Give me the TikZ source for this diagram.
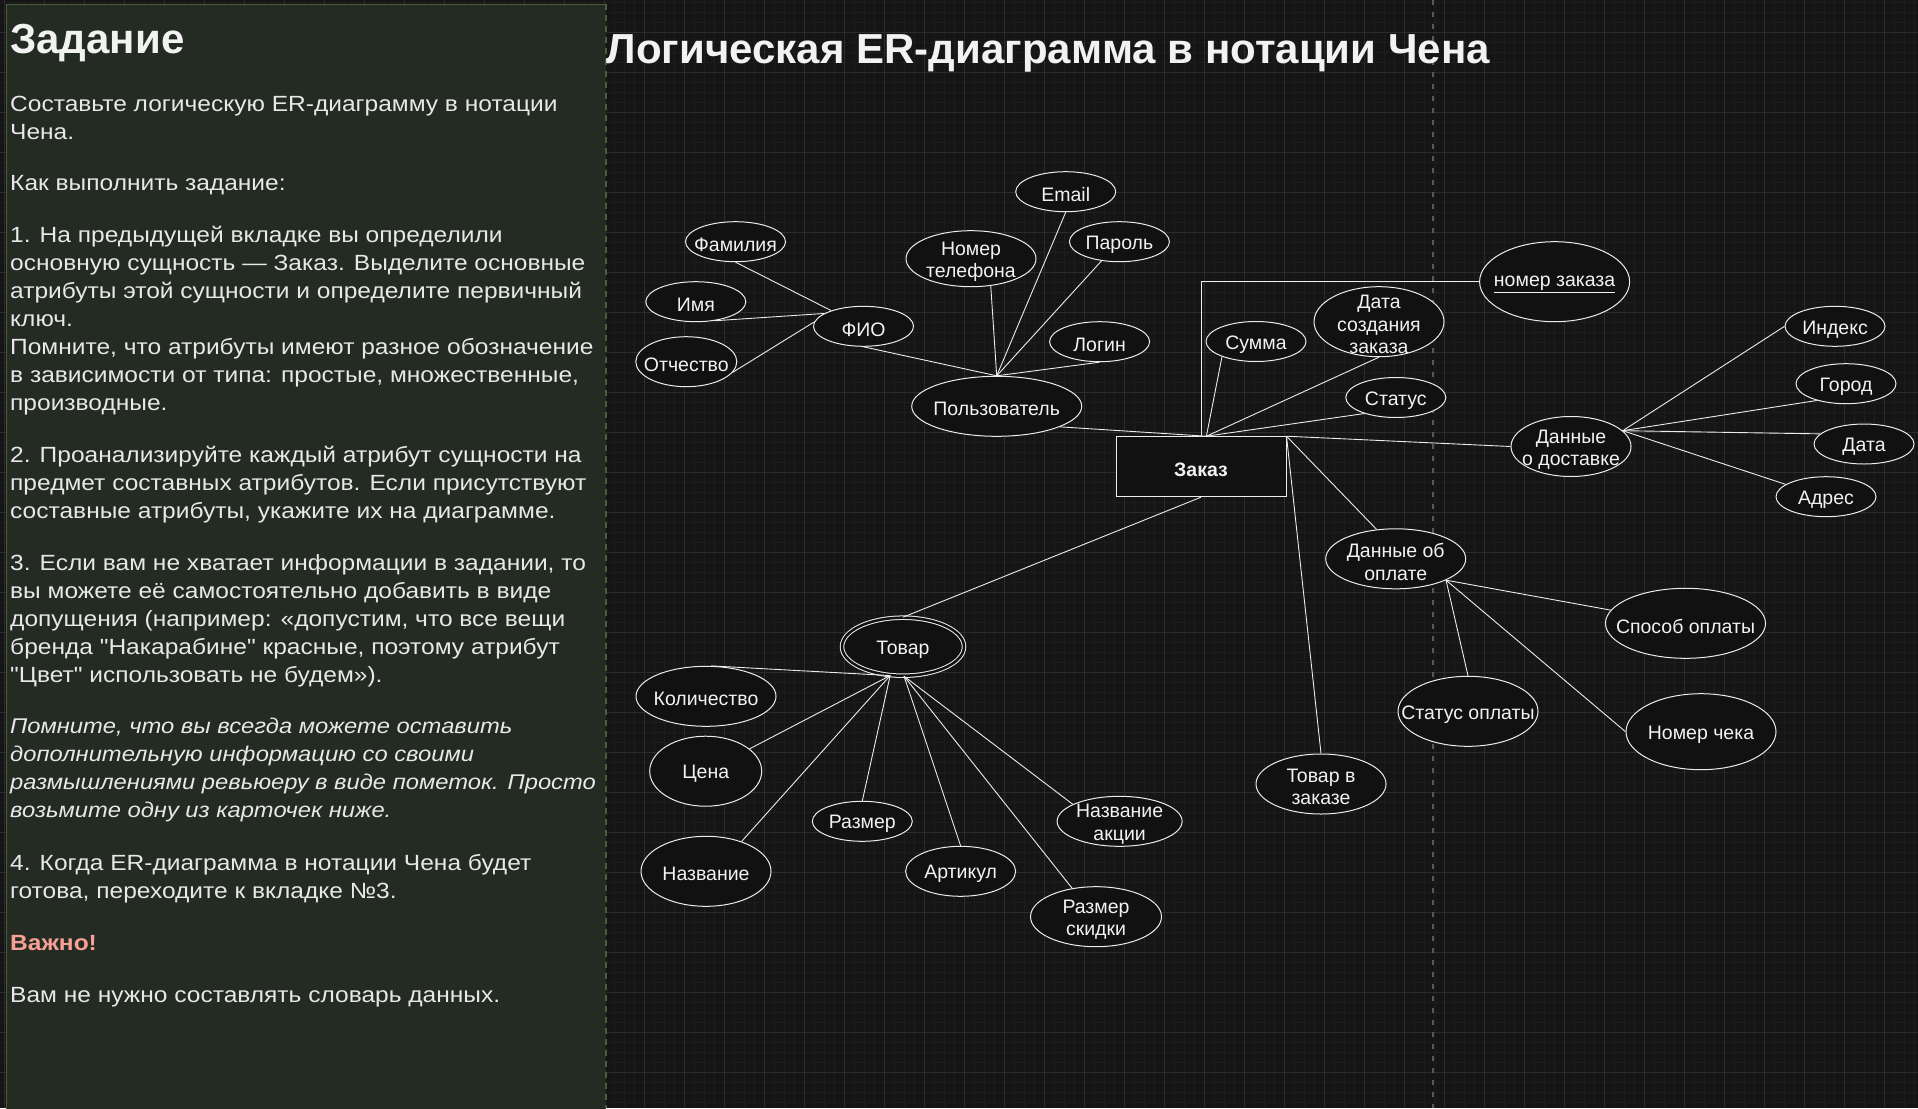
\documentclass[tikz,border=0pt]{standalone}
\usepackage{fontspec}
\setmainfont{Liberation Sans}
\newfontfamily\panelfont[FakeStretch=1.115]{Liberation Sans}
\usetikzlibrary{shapes.geometric, positioning}
\definecolor{erbg}{RGB}{21,21,21}
\definecolor{ergridminor}{RGB}{29,29,29}
\definecolor{ergridmajor}{RGB}{44,44,44}
\definecolor{panelfill}{RGB}{35,43,34}
\definecolor{panelline}{RGB}{70,96,55}
\definecolor{paneltext}{RGB}{232,232,232}
\definecolor{guidegray}{RGB}{88,88,88}
\definecolor{ershape}{RGB}{17,17,17}
\definecolor{erline}{RGB}{236,236,236}
\definecolor{ertext}{RGB}{242,242,242}
\definecolor{warnred}{RGB}{246,160,150}

\tikzset{
  attr/.style={ellipse, draw=erline, fill=ershape, line width=1pt, inner sep=0pt},
  lbl/.style={text=ertext, font=\fontsize{19.5}{22.5}\selectfont, align=center, yshift=-3pt},
  link/.style={draw=erline, line width=0.9pt},
  % paragraphs sit on the baseline of their last line
  para/.style={anchor=base west, text=paneltext, align=left, inner sep=0pt,
    font=\panelfont\fontsize{22}{28.1}\selectfont},
}

\begin{document}
\begin{tikzpicture}[x=1pt, y=-1pt]
    \useasboundingbox (0,0) rectangle (1918,1108);
    % canvas with grid
    \fill[erbg] (0,0) rectangle (1918,1108);
    \foreach \gx in {4.3,14.3,...,1914.3}
      \draw[ergridminor, line width=0.8pt] (\gx,0) -- (\gx,1108);
    \foreach \gy in {2.7,12.7,...,1102.7}
      \draw[ergridminor, line width=0.8pt] (0,\gy) -- (1918,\gy);
    \foreach \gx in {4.3,44.3,...,1884.3}
      \draw[ergridmajor, line width=1.2pt] (\gx,0) -- (\gx,1108);
    \foreach \gy in {32.7,72.7,...,1072.7}
      \draw[ergridmajor, line width=1.2pt] (0,\gy) -- (1918,\gy);
    \draw[guidegray, line width=1.6pt, dash pattern=on 5pt off 7pt] (1433,0) -- (1433,1108);

    % task panel
    \fill[panelfill] (6,4.5) rectangle (606,1110);
    \draw[panelline, line width=1pt] (6,1110) -- (6,4.5) -- (606,4.5);
    \draw[panelline, line width=1.6pt, dash pattern=on 6pt off 5pt] (606,4.5) -- (606,1108);

    \node[para, font=\fontsize{42}{46}\selectfont\bfseries, text=ertext] (zadanie) at (10,53.5) {Задание};
    \node[para] (p1) at (10,139.1) {Составьте логическую ER-диаграмму в нотации\\Чена.};
    \node[para] (p2) at (10,190.7) {Как выполнить задание:};
    \node[para] (p3) at (10,410.9) {1. На предыдущей вкладке вы определили\\основную сущность — Заказ. Выделите основные\\атрибуты этой сущности и определите первичный\\ключ.\\Помните, что атрибуты имеют разное обозначение\\в зависимости от типа: простые, множественные,\\производные.};
    \node[para] (p4) at (10,518.9) {2. Проанализируйте каждый атрибут сущности на\\предмет составных атрибутов. Если присутствуют\\составные атрибуты, укажите их на диаграмме.};
    \node[para] (p5) at (10,682.4) {3. Если вам не хватает информации в задании, то\\вы можете её самостоятельно добавить в виде\\допущения (например: «допустим, что все вещи\\бренда "Накарабине" красные, поэтому атрибут\\"Цвет" использовать не будем»).};
    \node[para, font=\panelfont\fontsize{21.3}{28.1}\selectfont\itshape] (p6) at (10,817.6) {Помните, что вы всегда можете оставить\\дополнительную информацию со своими\\размышлениями ревьюеру в виде пометок. Просто\\возьмите одну из карточек ниже.};
    \node[para] (p7) at (10,898.8) {4. Когда ER-диаграмма в нотации Чена будет\\готова, переходите к вкладке №3.};
    \node[para, font=\panelfont\fontsize{22}{28.1}\selectfont\bfseries, text=warnred] (vazhno) at (10,950.7) {Важно!};
    \node[para] (p8) at (10,1002.7) {Вам не нужно составлять словарь данных.};

    % heading
    \node[para, font=\fontsize{42}{46}\selectfont\bfseries, text=ertext] (heading) at (606.6,63.3) {Логическая ER-диаграмма в нотации Чена};

    % user attributes
    \node[attr, minimum width=100, minimum height=40, label={[lbl]center:Фамилия}] (fam) at (735.5,241.7) {};
    \node[attr, minimum width=100, minimum height=40, label={[lbl]center:Имя}] (imya) at (695.8,301.7) {};
    \node[attr, minimum width=101, minimum height=50, label={[lbl]center:Отчество}] (otch) at (686.3,361.7) {};
    \node[attr, minimum width=100, minimum height=40, label={[lbl]center:ФИО}] (fio) at (863.5,326.3) {};
    \node[attr, minimum width=130, minimum height=56, label={[lbl]center:{Номер\\телефона}}] (tel) at (971,258.7) {};
    \node[attr, minimum width=100, minimum height=40, label={[lbl]center:Email}] (email) at (1065.7,191.7) {};
    \node[attr, minimum width=100, minimum height=40, label={[lbl]center:Пароль}] (parol) at (1119.4,241.7) {};
    \node[attr, minimum width=100, minimum height=40, label={[lbl]center:Логин}] (login) at (1099.6,341.7) {};
    \node[attr, minimum width=170, minimum height=60, label={[lbl]center:Пользователь}] (polz) at (996.7,406.3) {};

    % order entity
    \node[draw=erline, fill=ershape, line width=1pt, minimum width=170, minimum height=60,
      label={[lbl, font=\fontsize{19.5}{22.5}\selectfont\bfseries]center:Заказ}] (zakaz) at (1201,466.7) {};
    \node[attr, minimum width=100, minimum height=40, label={[lbl]center:Сумма}] (summa) at (1256,341.5) {};
    \node[attr, minimum width=130, minimum height=70, label={[lbl]center:{Дата\\создания\\заказа}}] (datas) at (1379,321.7) {};
    \node[attr, minimum width=100, minimum height=40, label={[lbl]center:Статус}] (status) at (1395.8,397.5) {};
    \node[attr, minimum width=150, minimum height=80, label={[lbl]center:\underline{номер заказа}}] (nomer) at (1554.6,281.7) {};

    % delivery
    \node[attr, minimum width=120, minimum height=60, label={[lbl]center:{Данные\\о доставке}}] (dost) at (1571,446.5) {};
    \node[attr, minimum width=100, minimum height=40, label={[lbl]center:Индекс}] (index) at (1835,326.3) {};
    \node[attr, minimum width=100, minimum height=40, label={[lbl]center:Город}] (gorod) at (1846,383.7) {};
    \node[attr, minimum width=100, minimum height=40, label={[lbl]center:Дата}] (data) at (1864,444) {};
    \node[attr, minimum width=100, minimum height=40, label={[lbl]center:Адрес}] (adres) at (1826,496.7) {};

    % payment
    \node[attr, minimum width=140, minimum height=60, label={[lbl]center:{Данные об\\оплате}}] (oplata) at (1395.7,558.8) {};
    \node[attr, minimum width=160, minimum height=70, label={[lbl]center:Способ оплаты}] (sposob) at (1685.5,623.3) {};
    \node[attr, minimum width=140, minimum height=70, label={[lbl]center:Статус оплаты}] (stopl) at (1468,711.3) {};
    \node[attr, minimum width=150, minimum height=76, label={[lbl]center:Номер чека}] (chek) at (1701,731.7) {};
    \node[attr, minimum width=130, minimum height=60, label={[lbl]center:{Товар в\\заказе}}] (tovz) at (1321,784) {};

    % product
    \node[attr, double=ershape, double distance=2.5pt, minimum width=122, minimum height=58,
      label={[lbl]center:Товар}] (tovar) at (903,646.7) {};
    \node[attr, minimum width=140, minimum height=60, label={[lbl]center:Количество}] (kol) at (706,696.3) {};
    \node[attr, minimum width=112, minimum height=70, label={[lbl]center:Цена}] (cena) at (705.7,771.2) {};
    \node[attr, minimum width=130, minimum height=70, label={[lbl]center:Название}] (nazv) at (706,871.3) {};
    \node[attr, minimum width=100, minimum height=40, label={[lbl]center:Размер}] (razm) at (862.3,821.3) {};
    \node[attr, minimum width=110, minimum height=50, label={[lbl]center:Артикул}] (art) at (960.6,871.3) {};
    \node[attr, minimum width=125, minimum height=50, label={[lbl]center:{Название\\акции}}] (akc) at (1119.6,821.3) {};
    \node[attr, minimum width=131, minimum height=60, label={[lbl]center:{Размер\\скидки}}] (skid) at (1096,916.7) {};

    % links
    \draw[link] (fam.south) -- (fio.154);
    \draw[link] (imya.-46) -- (fio.162);
    \draw[link] (otch.-13) -- (fio.175);
    \draw[link] (fio.south) -- (polz.north);
    \draw[link] (tel.-54) -- (polz.north);
    \draw[link] (email.south) -- (polz.north);
    \draw[link] (parol.-133) -- (polz.north);
    \draw[link] (login.south) -- (polz.north);
    \draw[link] (polz.-18) -- (zakaz.80);
    \draw[link] (summa.-156) -- (zakaz.80);
    \draw[link] (datas.south) -- (zakaz.80);
    \draw[link] (status.-153) -- (zakaz.80);
    \draw[link] (nomer.west) -| (zakaz.north);
    \draw[link] (zakaz.north east) -- (dost.west);
    \draw[link] (dost.17) -- (index.west);
    \draw[link] (dost.17) -- (gorod.-150);
    \draw[link] (dost.17) -- (data.167);
    \draw[link] (dost.17) -- (adres.163);
    \draw[link] (zakaz.north east) -- (oplata.123);
    \draw[link] (zakaz.north east) -- (tovz.north);
    \draw[link] (oplata.-23) -- (sposob.170);
    \draw[link] (oplata.-23) -- (stopl.north);
    \draw[link] (oplata.-23) -- (chek.west);
    \draw[link] (zakaz.south) -- (tovar.north);
    \draw[link] (kol.80) -- (tovar.-114);
    \draw[link] (cena.27) -- (tovar.-114);
    \draw[link] (nazv.40) -- (tovar.-114);
    \draw[link] (razm.north) -- (tovar.-114);
    \draw[link] (art.north) -- (tovar.-88);
    \draw[link] (skid.130) -- (tovar.-88);
    \draw[link] (akc.160) -- (tovar.-88);
\end{tikzpicture}
\end{document}
